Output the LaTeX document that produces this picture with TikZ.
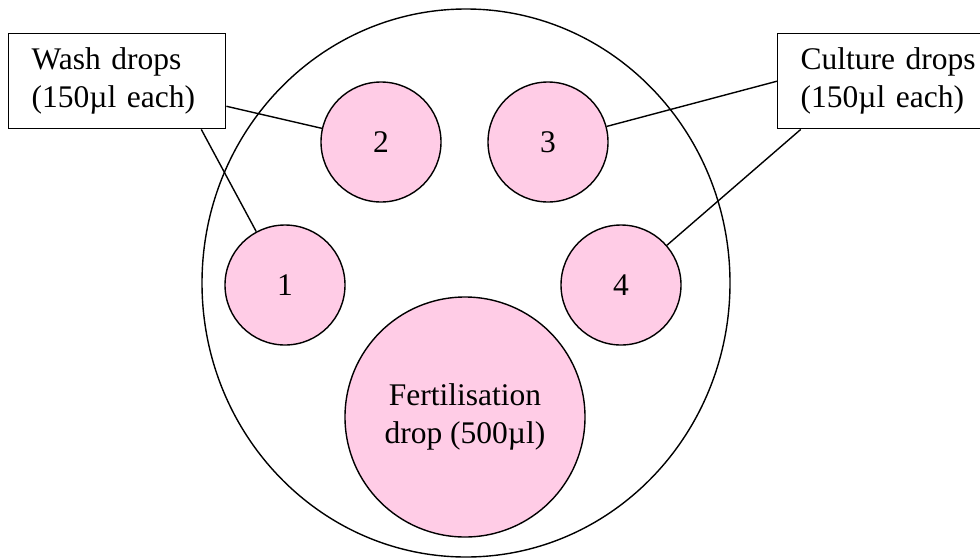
\documentclass[tikz,border=0pt]{standalone}
\usepackage{fontspec}
\setmainfont{Liberation Serif}
\usetikzlibrary{calc}
\definecolor{droppink}{RGB}{255,204,230}

\begin{document}
\begin{tikzpicture}[x=0.5pt, y=-0.5pt, line width=0.7pt,
    every node/.style={font=\fontsize{15.75}{19}\selectfont},
    drop/.style={circle, draw=black, fill=droppink, minimum size=60pt, inner sep=0pt, align=center},
    labelbox/.style={rectangle, draw=black, fill=white, align=left, text width=85.5pt, inner xsep=11.5pt, inner ysep=0pt, minimum height=47.5pt, anchor=north west}]
    \useasboundingbox (0,0) rectangle (980,558);

    % Dish
    \draw (466,283) ellipse [x radius=264, y radius=274];

    %Nodes
    \node (drop_one)   [drop] at (285,285) {1};
    \node (drop_two)   [drop] at (381,142) {2};
    \node (drop_three) [drop] at (548,142) {3};
    \node (drop_four)  [drop] at (621,285) {4};
    \node (fert_drop)  [drop, minimum size=120pt] at (465,417) {Fertilisation\\drop (500µl)};

    % Text labels (outside the dish)
    \node (wash_box)    [labelbox] at (8,33)   {Wash drops\\(150µl each)};
    \node (culture_box) [labelbox, text width=95pt] at (777,33) {Culture drops\\(150µl each)};

    \coordinate (wash_side)     at ($(wash_box.north east)!0.76!(wash_box.south east)$);
    \coordinate (wash_foot)     at ($(wash_box.south west)!0.885!(wash_box.south east)$);
    \coordinate (culture_foot)  at ($(culture_box.south west)!0.1!(culture_box.south east)$);

    %Lines
    \draw (wash_side)       -- (drop_two);
    \draw (wash_foot)       -- (drop_one);
    \draw (culture_box.west) -- (drop_three);
    \draw (culture_foot)    -- (drop_four);
\end{tikzpicture}
\end{document}
